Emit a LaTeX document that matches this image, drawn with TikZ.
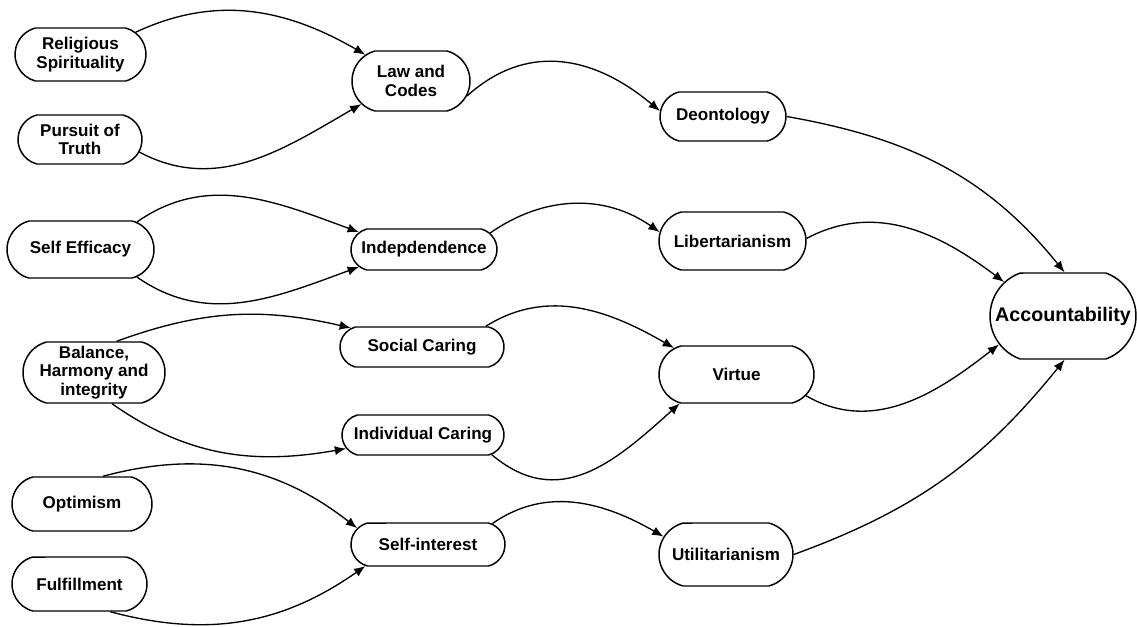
\documentclass[tikz,border=0pt]{standalone}
\usepackage{fontspec}
\setmainfont{Liberation Sans}
\usetikzlibrary{shapes.misc,arrows.meta}

\begin{document}
\begin{tikzpicture}[
        box/.style={draw, line width=0.42pt, rounded rectangle,
            rounded rectangle arc length=150, inner sep=0pt},
        boxtext/.style={align=center, inner sep=0pt, font=\fontsize{4.85}{5.3}\selectfont\bfseries},
        link/.style={-{Latex[length=3.2pt,width=2.6pt]}, line width=0.38pt}]
            \useasboundingbox (0,0) rectangle (11.37,-6.26);

            % sources
            \node[box, minimum width=1.31cm, minimum height=0.53cm,
                label={[boxtext]center:Religious\\Spirituality}] (relig) at (0.805,-0.545) {};
            \node[box, minimum width=1.24cm, minimum height=0.49cm,
                label={[boxtext]center:Pursuit of\\Truth}] (truth) at (0.80,-1.395) {};
            \node[box, minimum width=1.47cm, minimum height=0.57cm,
                label={[boxtext]center:Self Efficacy}] (selfeff) at (0.805,-2.495) {};
            \node[box, minimum width=1.42cm, minimum height=0.61cm,
                label={[boxtext]center:Balance,\\Harmony and\\integrity}] (balance) at (0.94,-3.725) {};
            \node[box, minimum width=1.40cm, minimum height=0.54cm,
                label={[boxtext]center:Optimism}] (optim) at (0.82,-5.04) {};
            \node[box, minimum width=1.35cm, minimum height=0.54cm,
                label={[boxtext]center:Fulfillment}] (fulfil) at (0.795,-5.84) {};

            % middle column
            \node[box, minimum width=1.18cm, minimum height=0.60cm,
                label={[boxtext]center:Law and\\Codes}] (law) at (4.11,-0.81) {};
            \node[box, minimum width=1.46cm, minimum height=0.41cm,
                label={[boxtext]center:Indepdendence}] (indep) at (4.24,-2.495) {};
            \node[box, minimum width=1.64cm, minimum height=0.40cm,
                label={[boxtext]center:Social Caring}] (social) at (4.22,-3.47) {};
            \node[box, minimum width=1.62cm, minimum height=0.40cm,
                label={[boxtext]center:Individual Caring}] (indiv) at (4.23,-4.35) {};
            \node[box, minimum width=1.54cm, minimum height=0.43cm,
                label={[boxtext]center:Self-interest}] (selfint) at (4.28,-5.445) {};

            % ethics
            \node[box, minimum width=1.26cm, minimum height=0.49cm,
                label={[boxtext]center:Deontology}] (deon) at (7.23,-1.165) {};
            \node[box, minimum width=1.47cm, minimum height=0.58cm,
                label={[boxtext]center:Libertarianism}] (liber) at (7.325,-2.41) {};
            \node[box, minimum width=1.55cm, minimum height=0.57cm,
                label={[boxtext]center:Virtue}] (virtue) at (7.365,-3.745) {};
            \node[box, minimum width=1.34cm, minimum height=0.63cm,
                label={[boxtext]center:Utilitarianism}] (util) at (7.26,-5.545) {};

            \node[box, minimum width=1.46cm, minimum height=0.86cm, rounded rectangle arc length=140,
                label={[boxtext, font=\fontsize{5.6}{6}\selectfont\bfseries]center:Accountability}] (acc) at (10.63,-3.16) {};

            \draw[link] (relig.22) to[out=25,in=150] (law.150);
            \draw[link] (truth.-12) to[out=-28,in=210] (law.205);
            \draw[link] (law.-15) to[out=42,in=140,looseness=1.1] (deon.175);

            \draw[link] (selfeff.26) to[out=35,in=160] (indep.165);
            \draw[link] (selfeff.-26) to[out=-35,in=200] (indep.195);
            \draw[link] (indep.14) to[out=35,in=145] (liber.173);

            \draw[link] (balance.54) to[out=20,in=167] (social.165);
            \draw[link] (balance.-60) to[out=-35,in=190] (indiv.190);
            \draw[link] (social.18) to[out=32,in=150] (virtue.157);
            \draw[link] (indiv.-16) to[out=-40,in=222,looseness=1.15] (virtue.207);

            \draw[link] (optim.53) to[out=15,in=142] (selfint.167);
            \draw[link] (fulfil.-42) to[out=-15,in=215] (selfint.199);
            \draw[link] (selfint.18) to[out=35,in=150] (util.164);

            \draw[link] (deon.east) to[out=-10,in=129] (acc.88);
            \draw[link] (liber.2) to[out=28,in=143] (acc.150);
            \draw[link] (virtue.-17) to[out=-30,in=218] (acc.204);
            \draw[link] (util.east) to[out=20,in=-129] (acc.-88);
        \end{tikzpicture}
\end{document}
